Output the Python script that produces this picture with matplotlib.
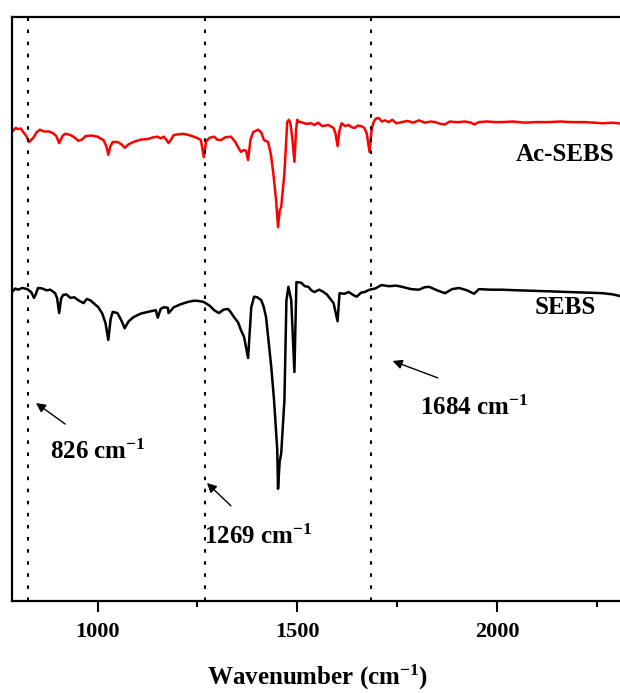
import numpy as np
from matplotlib import pyplot as plt

plt.rcParams['font.family'] = ['Liberation Serif', 'DejaVu Serif']
plt.rcParams['font.weight'] = 'bold'
plt.rcParams['mathtext.fontset'] = 'custom'
plt.rcParams['mathtext.rm'] = 'Liberation Serif:bold'
plt.rcParams['mathtext.it'] = 'Liberation Serif:bold'
plt.rcParams['mathtext.bf'] = 'Liberation Serif:bold'

# Ac-SEBS spectrum (offset, a.u.)
wn_ac = [787, 795, 801, 808, 814, 822, 829, 839, 848, 856, 866, 878, 889, 897, 904, 912, 919,
         932, 942, 952, 961, 970, 985, 1000, 1015, 1022, 1027, 1032, 1038, 1050, 1060, 1068,
         1078, 1090, 1108, 1126, 1140, 1151, 1158, 1166, 1172, 1178, 1185, 1191, 1203, 1214,
         1228, 1241, 1252, 1259, 1266, 1272, 1280, 1292, 1300, 1309, 1320, 1334, 1345, 1352,
         1359, 1366, 1372, 1377, 1383, 1390, 1402, 1410, 1417, 1427, 1434, 1440,
         1447, 1452, 1456, 1460, 1468, 1475, 1479, 1483, 1488, 1493, 1497, 1500, 1505, 1510,
         1522, 1535, 1543, 1552, 1563, 1578, 1591, 1596, 1601, 1606, 1611, 1620, 1629, 1637,
         1644, 1652, 1661, 1668, 1674, 1681, 1686, 1691, 1697, 1704, 1712, 1720, 1729, 1738,
         1748, 1762, 1776, 1790, 1805, 1820, 1834, 1845, 1858, 1870, 1882, 1895, 1905, 1920,
         1935, 1943, 1955, 1975, 1995, 2013, 2040, 2070, 2096, 2130, 2160, 2182, 2220, 2265,
         2290, 2315]
t_ac = [80.4, 81.0, 80.8, 80.9, 80.3, 79.6, 78.6, 79.3, 80.3, 80.7, 80.4, 80.4, 80.1, 79.6, 78.4, 79.6, 80.0,
        79.8, 79.4, 78.8, 79.0, 79.6, 79.7, 79.5, 78.9, 77.9, 76.4, 77.8, 78.6, 78.6, 78.2, 77.6,
        78.2, 78.6, 79.0, 79.1, 79.4, 79.5, 79.2, 79.5, 79.0, 78.4, 79.1, 79.8, 79.9, 80.0,
        79.8, 79.5, 79.2, 78.9, 76.0, 78.7, 79.3, 79.5, 79.0, 78.9, 79.4, 79.5, 78.6, 77.7,
        76.9, 77.2, 77.1, 75.5, 79.0, 80.3, 80.7, 80.2, 78.9, 78.6, 76.5, 73.3,
        68.7, 64.0, 66.8, 67.5, 73.3, 82.0, 82.4, 81.8, 79.0, 75.2, 80.5, 82.4, 82.0, 82.0,
        81.7, 81.8, 81.5, 81.9, 81.3, 81.5, 81.0, 80.0, 77.9, 80.6, 81.8, 81.3, 81.5, 81.1,
        81.0, 81.4, 81.3, 81.0, 80.1, 76.9, 80.5, 82.0, 82.6, 82.7, 82.1, 82.3, 82.0, 82.4,
        81.8, 82.0, 82.2, 81.9, 82.3, 81.9, 82.1, 82.0, 81.7, 81.6, 82.1, 82.0, 82.0, 82.1,
        81.9, 81.6, 82.0, 82.1, 82.0, 82.0, 82.1, 81.9, 82.0, 82.0, 82.1, 82.0, 82.0, 81.8,
        81.9, 81.7]

# SEBS spectrum
wn_sebs = [786, 794, 801, 812, 824, 834, 841, 846, 851, 862, 872, 882, 894, 899, 904, 909, 914,
           922, 932, 942, 952, 965, 973, 982, 990, 1002, 1012, 1020, 1027, 1033, 1038, 1050,
           1060, 1068, 1078, 1090, 1108, 1126, 1146, 1151, 1158, 1166, 1176, 1178, 1191, 1208,
           1226, 1240, 1251, 1266, 1280, 1292, 1304, 1316, 1327, 1334, 1342, 1352, 1359, 1367,
           1377, 1385, 1392, 1400, 1410, 1416, 1422, 1435, 1442, 1450, 1452, 1456, 1460, 1468,
           1473, 1478, 1485, 1493, 1498, 1510, 1519, 1528, 1535, 1543, 1555, 1566, 1574, 1581,
           1591, 1601, 1606, 1618, 1629, 1640, 1649, 1660, 1669, 1681, 1695, 1711, 1730, 1748,
           1762, 1785, 1805, 1818, 1830, 1850, 1870, 1888, 1905, 1925, 1943, 1955, 1985, 2013,
           2050, 2096, 2140, 2182, 2225, 2265, 2290, 2315]
t_sebs = [52.9, 53.5, 53.3, 53.6, 53.4, 52.9, 51.9, 52.6, 53.6, 53.5, 53.2, 53.3, 52.7, 51.8, 49.3, 51.8, 52.4,
          52.5, 51.9, 52.0, 51.5, 51.0, 51.7, 51.5, 51.0, 50.3, 49.2, 47.6, 44.7, 48.3, 49.5, 49.3,
          48.0, 46.7, 47.9, 48.6, 49.2, 49.5, 49.8, 48.5, 50.0, 50.3, 50.2, 49.3, 50.3, 50.8,
          51.2, 51.4, 51.4, 51.2, 50.6, 49.8, 49.3, 49.9, 50.0, 49.4, 48.6, 47.7, 46.4, 45.2,
          41.6, 50.3, 52.1, 52.0, 51.5, 50.4, 48.6, 40.1, 34.4, 25.9, 19.2, 23.8, 25.3, 34.4,
          51.5, 53.8, 51.5, 39.2, 54.6, 54.5, 53.9, 53.8, 53.2, 52.9, 53.3, 52.9, 52.5, 51.9,
          51.0, 47.9, 52.7, 52.6, 52.9, 52.4, 52.1, 52.8, 52.9, 53.3, 53.5, 54.1, 53.9, 54.0,
          53.8, 53.4, 53.3, 53.7, 53.8, 53.2, 52.7, 53.4, 53.6, 53.2, 52.6, 53.4, 53.3, 53.3,
          53.2, 53.1, 53.0, 52.9, 52.8, 52.7, 52.5, 52.1]

peaks = [826, 1269, 1684]
peak_labels = ['826 cm$^{-1}$', '1269 cm$^{-1}$', '1684 cm$^{-1}$']

fig = plt.figure(figsize=(6.2, 6.93), dpi=100)
ax = fig.add_axes([0.0194, 0.1328, 0.985, 0.8427])

ax.plot(wn_ac, t_ac, color='red', lw=1.8)
ax.plot(wn_sebs, t_sebs, color='black', lw=1.8)

for p in peaks:
    ax.axvline(p, color='black', ls=(0, (1.7, 4.1)), lw=1.5)

# peak annotations: text position, arrow tail, arrow head
ann_text = [(1002, 25.5), (1402, 11.0), (1943, 33.0)]
ann_tail = [(919, 30.3), (1334, 16.3), (1852, 38.2)]
ann_head = [(846, 33.9), (1274, 20.2), (1739, 41.1)]
for lab, tp, tail, head in zip(peak_labels, ann_text, ann_tail, ann_head):
    ax.text(tp[0], tp[1], lab, fontsize=18, fontweight='bold', ha='center', va='center')
    ax.annotate('', xy=head, xytext=tail,
                arrowprops=dict(arrowstyle='-|>', color='black', lw=1.0,
                                mutation_scale=14, shrinkA=0, shrinkB=0))

ax.text(2170, 76.4, 'Ac-SEBS', fontsize=18, fontweight='bold', ha='center', va='center')
ax.text(2170, 50.2, 'SEBS', fontsize=18, fontweight='bold', ha='center', va='center')

ax.set_xlim(786, 2315)
ax.set_ylim(0, 100)
ax.set_xticks([1000, 1500, 2000])
ax.set_xticks([1250, 1750, 2250], minor=True)
ax.set_yticks([])
ax.tick_params(axis='x', which='major', direction='out', length=8, width=1.5,
               labelsize=16, pad=7)
ax.tick_params(axis='x', which='minor', direction='out', length=4, width=1.5)
for lbl in ax.get_xticklabels():
    lbl.set_fontweight('bold')
for s in ax.spines.values():
    s.set_linewidth(1.6)

ax.set_xlabel('Wavenumber (cm$^{-1}$)', fontsize=18, fontweight='bold', labelpad=15.5)

plt.savefig('out.png', dpi=100)
